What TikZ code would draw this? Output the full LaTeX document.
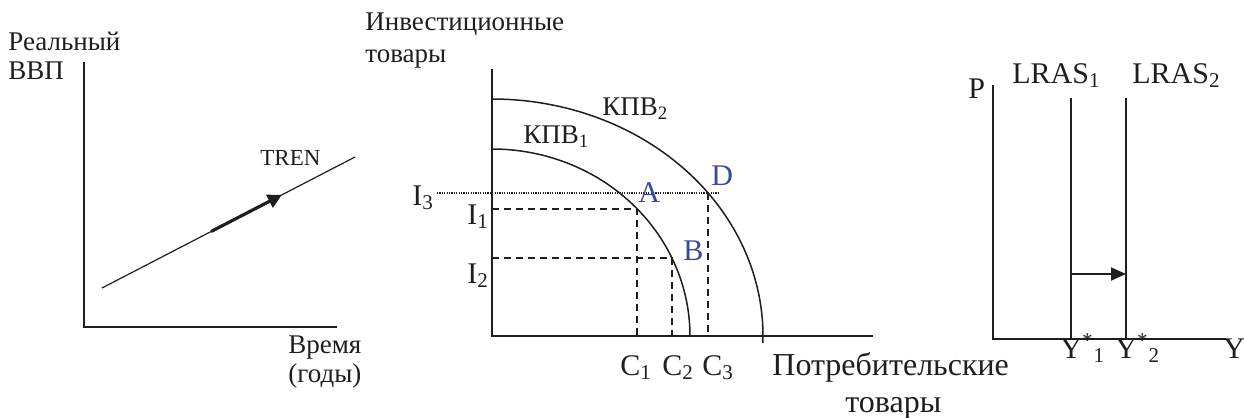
\documentclass[tikz,border=0pt]{standalone}
\usepackage{fontspec}
\setmainfont{Liberation Serif}
\usetikzlibrary{arrows.meta,positioning}
\definecolor{PtBlue}{RGB}{58,72,158}
\definecolor{InkGray}{RGB}{30,30,30}
\tikzset{
  ax/.style={line width=1pt,InkGray},
  ppf/.style={line width=0.75pt,InkGray,smooth,samples=80},
  lras/.style={line width=0.8pt,InkGray},
  guide/.style={line width=0.9pt,InkGray,dash pattern=on 3.5pt off 2.5pt},
  dotl/.style={line width=0.7pt,InkGray,dash pattern=on 0.6pt off 0.6pt},
  cyr/.style={inner sep=0pt,anchor=base west,font=\fontsize{13.5}{16}\selectfont,text=InkGray},
  lat/.style={inner sep=0pt,anchor=base west,font=\fontsize{15}{18}\selectfont,text=InkGray},
  big/.style={lat,font=\fontsize{16}{19}\selectfont},
  pnt/.style={lat,text=PtBlue},
  shiftarr/.style={-{Triangle[length=7.5pt,width=6.5pt]},line width=0.9pt,InkGray},
  trendarr/.style={-{Triangle[length=7pt,width=7pt]},line width=1.6pt,InkGray},
}

\begin{document}
\begin{tikzpicture}[x=0.5pt,y=-0.5pt]
  \useasboundingbox (0,0) rectangle (1244,418);

  % trend of real GDP
  \coordinate (o1) at (84,327);
  \draw[ax] (84,62) -- (o1) -- (337,327);
  \draw[line width=0.6pt,InkGray] (102,288) -- coordinate[pos=0.431] (ta) coordinate[pos=0.711] (tb) (355,157);
  \draw[trendarr] (ta) -- (tb);
  \node[cyr] (rv) at (8,50) {Реальный};
  \node[cyr] (vvp) at (8,79) {ВВП};
  \node[cyr,font=\fontsize{11.5}{14}\selectfont] (tren) at (260,165) {TREN};
  \node[cyr] (vr) at (288,353) {Время};
  \node[cyr] (gd) at (288,382) {(годы)};

  % production possibilities
  \coordinate (o2) at (492,336);
  \coordinate (i3) at (437,193);
  \coordinate (A) at ({492+198*cos(42.9)},{336-187*sin(42.9)});
  \coordinate (B) at ({492+198*cos(24.6)},{336-187*sin(24.6)});
  \coordinate (D) at ({492+271*cos(37.1)},{336-237*sin(37.1)});
  \draw[guide] (o2 |- A) -- (A) -- (A |- o2);
  \draw[guide] (o2 |- B) -- (B) -- (B |- o2);
  \draw[guide] (D) -- (D |- o2);
  \draw[dotl] (i3 |- D) -- (D) -- ++(10,0);
  \draw[ax] (492,69) -- (o2) -- (873,336);
  \draw[ppf] plot[domain=0:90] ({492+198*cos(\x)},{336-187*sin(\x)});
  \draw[ppf] plot[domain=-1.7:90] ({492+271*cos(\x)},{336-237*sin(\x)});
  \node[cyr] (inv) at (365,30) {Инвестиционные};
  \node[cyr] (tv1) at (365,62) {товары};
  \node[cyr] (k2) at (602,115) {КПВ\textsubscript{2}};
  \node[cyr] (k1) at (523,143) {КПВ\textsubscript{1}};
  \node[lat] (li3) at (412,205) {I\textsubscript{3}};
  \node[lat] (li1) at (467,224) {I\textsubscript{1}};
  \node[lat] (li2) at (467,283) {I\textsubscript{2}};
  \node[pnt] (la) at (638,202) {A};
  \node[pnt] (lb) at (683,260) {B};
  \node[pnt] (ld) at (711,185) {D};
  \node[lat] (c1) at (620,375) {C\textsubscript{1}};
  \node[lat] (c2) at (662,375) {C\textsubscript{2}};
  \node[lat] (c3) at (702,375) {C\textsubscript{3}};
  \node[big] (pot) at (772,375) {Потребительские};
  \node[big] (tv2) at (845,412) {товары};

  % long-run aggregate supply
  \coordinate (o3) at (993,339);
  \draw[ax] (993,85) -- (o3) -- (1226,339);
  \draw[lras] (1071,98) coordinate (l1) -- (l1 |- o3);
  \draw[lras] (1126,98) coordinate (l2) -- (l2 |- o3);
  \draw[shiftarr] (1071,274) coordinate (s1) -- (s1 -| l2);
  \node[lat] (p) at (968,98) {P};
  \node[lat] (lr1) at (1012,83) {LRAS\textsubscript{1}};
  \node[lat] (lr2) at (1132,83) {LRAS\textsubscript{2}};
  \node[lat] (y1) at (1060,358) {Y\textsuperscript{*}\textsubscript{1}};
  \node[lat] (y2) at (1115,358) {Y\textsuperscript{*}\textsubscript{2}};
  \node[lat] (y) at (1223,358) {Y};
\end{tikzpicture}
\end{document}
